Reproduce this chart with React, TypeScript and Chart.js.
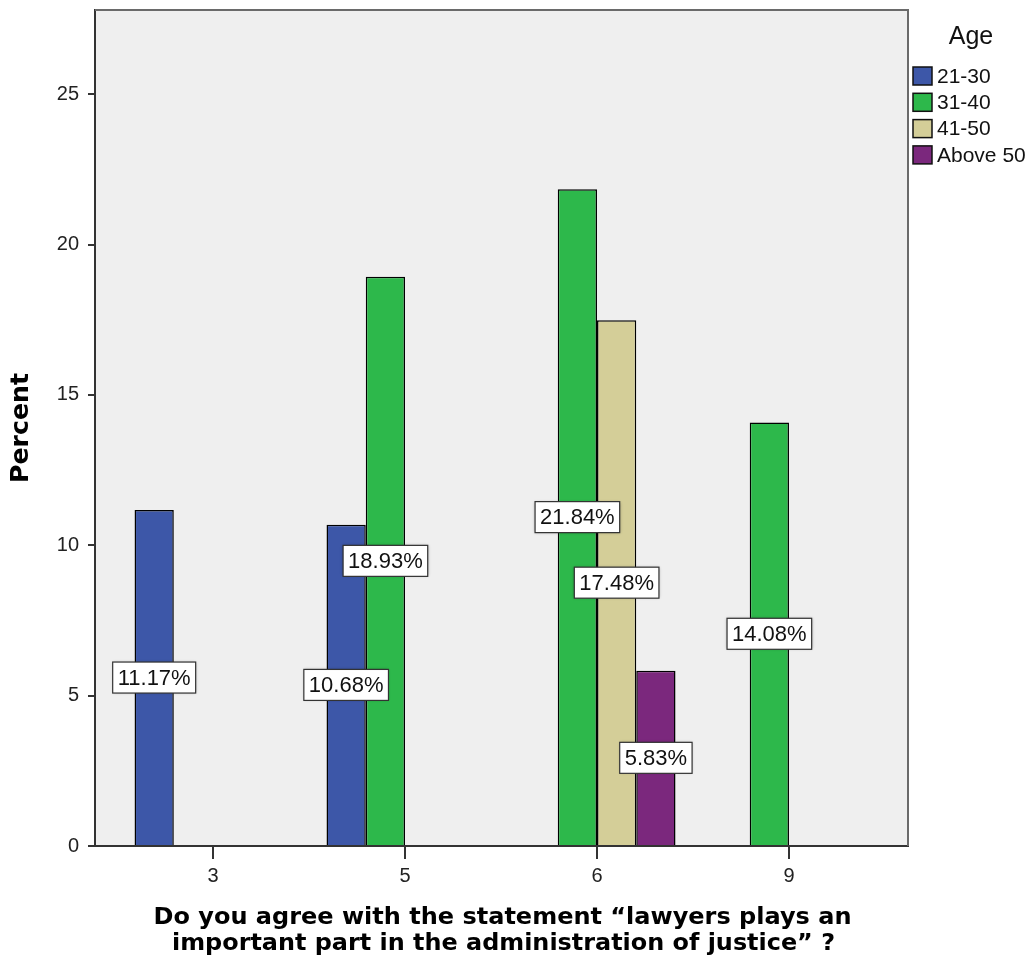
import React, { useEffect, useRef } from "react";
import { Chart, registerables } from "chart.js";

Chart.register(...registerables);

const categories = ["3", "5", "6", "9"];
const seriesNames = ["21-30", "31-40", "41-50", "Above 50"];
const age2130: (number | null)[] = [11.17, 10.68, null, null];
const age3140: (number | null)[] = [null, 18.93, 21.84, 14.08];
const age4150: (number | null)[] = [null, null, 17.48, null];
const ageAbove50: (number | null)[] = [null, null, 5.83, null];
const seriesColors = ["#3d57a8", "#2db84b", "#d4ce98", "#7b287d"];
const yTickValues = [0, 5, 10, 15, 20, 25];
const xTitleLines = [
  "Do you agree with the statement \u201Clawyers plays an",
  "important part in the administration of justice\u201D ?",
];
const yTitle = "Percent";
const legendTitle = "Age";

const W = 1034;
const H = 970;
const FONT = "'Liberation Sans', Arial, sans-serif";
const TITLE_FONT = "'DejaVu Sans', 'Liberation Sans', sans-serif";

function fitText(ctx: CanvasRenderingContext2D, txt: string, cx: number, cy: number, target: number) {
  const w = ctx.measureText(txt).width;
  const s = target / w;
  ctx.save();
  ctx.translate(cx, cy);
  ctx.scale(s, 1);
  ctx.fillText(txt, 0, 0);
  ctx.restore();
}

export default function App() {
  const ref = useRef<HTMLCanvasElement | null>(null);

  useEffect(() => {
    document.body.style.margin = "0";
    const canvas = ref.current!;
    const allSeries = [age2130, age3140, age4150, ageAbove50];

    const datasets = allSeries.map((vals, si) => ({
      label: seriesNames[si],
      data: vals
        .map((v, i) => (v == null ? null : { x: i, y: v }))
        .filter((p) => p !== null) as { x: number; y: number }[],
      backgroundColor: seriesColors[si],
      borderColor: "#000000",
      borderWidth: 1.5,
      borderSkipped: "bottom" as const,
      categoryPercentage: 0.818,
      barPercentage: 1.0,
    }));

    const bgPlugin = {
      id: "bgPlugin",
      beforeDraw(chart: any) {
        const { ctx, chartArea: a } = chart;
        ctx.save();
        ctx.fillStyle = "#ffffff";
        ctx.fillRect(0, 0, chart.width, chart.height);
        ctx.fillStyle = "#efefef";
        ctx.fillRect(a.left, a.top, a.right - a.left, a.bottom - a.top);
        ctx.restore();
      },
      afterDraw(chart: any) {
        const { ctx, chartArea: a } = chart;
        ctx.save();
        // frame top & right
        ctx.strokeStyle = "#6a6a6a";
        ctx.lineWidth = 2;
        ctx.beginPath();
        ctx.moveTo(a.left, a.top);
        ctx.lineTo(a.right, a.top);
        ctx.lineTo(a.right, a.bottom);
        ctx.stroke();

        // x title
        ctx.fillStyle = "#000";
        ctx.font = `bold 23px ${TITLE_FONT}`;
        ctx.textAlign = "center";
        ctx.textBaseline = "middle";
        const cx = (a.left + a.right) / 2;
        fitText(ctx, xTitleLines[0], cx + 1, 918, 698);
        fitText(ctx, xTitleLines[1], cx + 2, 944, 663);

        // y title
        ctx.save();
        ctx.translate(22, (a.top + a.bottom) / 2);
        ctx.rotate(-Math.PI / 2);
        ctx.font = `bold 24px ${TITLE_FONT}`;
        fitText(ctx, yTitle, 0, 0, 110);
        ctx.restore();

        // legend
        ctx.font = `25px ${FONT}`;
        ctx.fillStyle = "#111";
        ctx.textAlign = "center";
        ctx.fillText(legendTitle, 971, 37);
        ctx.font = `21px ${FONT}`;
        ctx.textAlign = "left";
        seriesNames.forEach((name, i) => {
          const cy = 76 + 26.3 * i;
          ctx.fillStyle = seriesColors[i];
          ctx.fillRect(913, cy - 9, 19, 18);
          ctx.strokeStyle = "#111";
          ctx.lineWidth = 1.5;
          ctx.strokeRect(913, cy - 9, 19, 18);
          ctx.fillStyle = "#111";
          ctx.fillText(name, 937, cy + 1);
        });
        ctx.restore();
      },
      afterDatasetsDraw(chart: any) {
        const { ctx } = chart;
        ctx.save();
        ctx.font = `22px ${FONT}`;
        ctx.textAlign = "center";
        ctx.textBaseline = "middle";
        chart.data.datasets.forEach((ds: any, di: number) => {
          const meta = chart.getDatasetMeta(di);
          meta.data.forEach((el: any, j: number) => {
            const v = ds.data[j].y as number;
            const txt = `${v.toFixed(2)}%`;
            const x = el.x;
            const y = (el.y + el.base) / 2;
            const tw = ctx.measureText(txt).width;
            const bw = tw + 10;
            const bh = 31;
            ctx.shadowColor = "rgba(0,0,0,0.35)";
            ctx.shadowBlur = 3;
            ctx.fillStyle = "#ffffff";
            ctx.fillRect(x - bw / 2, y - bh / 2, bw, bh);
            ctx.shadowColor = "transparent";
            ctx.shadowBlur = 0;
            ctx.strokeStyle = "#333";
            ctx.lineWidth = 1.2;
            ctx.strokeRect(x - bw / 2, y - bh / 2, bw, bh);
            ctx.fillStyle = "#111";
            ctx.fillText(txt, x, y + 1);
          });
        });
        ctx.restore();
      },
    };

    const chart = new Chart(canvas, {
      type: "bar",
      data: { datasets },
      options: {
        animation: false,
        responsive: false,
        devicePixelRatio: 1,
        layout: { padding: { top: 10, right: W - 908, bottom: 0, left: 0 } },
        plugins: {
          legend: { display: false },
          tooltip: { enabled: false },
        },
        scales: {
          x: {
            type: "linear",
            min: -0.615,
            max: 3.62,
            offset: false,
            afterBuildTicks: (s: any) => {
              s.ticks = categories.map((_, i) => ({ value: i }));
            },
            afterFit: (s: any) => {
              s.height = H - 846;
              s.paddingLeft = 0;
              s.paddingRight = 0;
            },
            ticks: {
              callback: (v: any) => categories[v as number] ?? "",
              font: { family: FONT, size: 20 },
              color: "#222",
              padding: 5,
              autoSkip: false,
              maxRotation: 0,
            },
            grid: {
              display: true,
              offset: false,
              drawOnChartArea: false,
              drawTicks: true,
              tickLength: 13,
              color: "#333",
              lineWidth: 2,
            },
            border: { display: true, color: "#333", width: 2 },
          },
          y: {
            type: "linear",
            min: 0,
            max: 27.8,
            afterBuildTicks: (s: any) => {
              s.ticks = yTickValues.map((v) => ({ value: v }));
            },
            afterFit: (s: any) => {
              s.width = 95;
              s.paddingTop = 0;
              s.paddingBottom = 0;
            },
            ticks: {
              font: { family: FONT, size: 20 },
              color: "#222",
              padding: 9,
            },
            grid: {
              display: true,
              drawOnChartArea: false,
              drawTicks: true,
              tickLength: 7,
              color: "#333",
              lineWidth: 2,
            },
            border: { display: true, color: "#333", width: 2 },
          },
        },
      },
      plugins: [bgPlugin],
    } as any);

    return () => chart.destroy();
  }, []);

  return (
    <div style={{ position: "absolute", left: 0, top: 0, width: W, height: H }}>
      <canvas ref={ref} width={W} height={H} style={{ width: W, height: H, display: "block" }} />
    </div>
  );
}
